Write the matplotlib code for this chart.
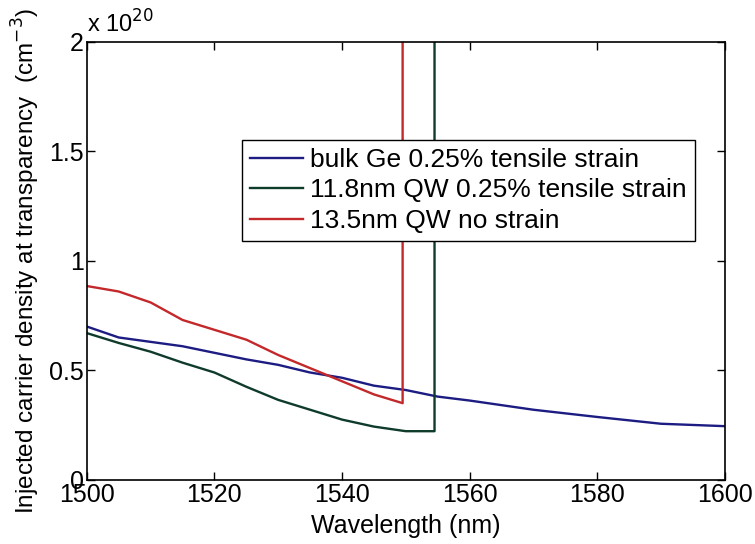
import numpy as np
import matplotlib.pyplot as plt

plt.rcParams['font.family'] = ['Liberation Sans', 'DejaVu Sans']

# values in units of 1e20 cm^-3
wl_bulk = [1500, 1505, 1510, 1515, 1520, 1525, 1530, 1535, 1540, 1545, 1550, 1555, 1560, 1570, 1580, 1590, 1600]
n_bulk = [0.70, 0.65, 0.63, 0.61, 0.58, 0.55, 0.525, 0.49, 0.466, 0.43, 0.41, 0.38, 0.362, 0.32, 0.287, 0.256, 0.245]

wl_qw118 = [1500, 1505, 1510, 1515, 1520, 1525, 1530, 1535, 1540, 1545, 1550, 1554.5, 1554.5]
n_qw118 = [0.67, 0.625, 0.585, 0.535, 0.49, 0.425, 0.365, 0.32, 0.275, 0.243, 0.222, 0.222, 2.5]

wl_qw135 = [1500, 1505, 1510, 1515, 1520, 1525, 1530, 1535, 1540, 1545, 1549.5, 1549.5]
n_qw135 = [0.885, 0.86, 0.81, 0.73, 0.685, 0.64, 0.57, 0.51, 0.45, 0.39, 0.35, 2.5]

labels = ['bulk Ge 0.25% tensile strain',
          '11.8nm QW 0.25% tensile strain',
          '13.5nm QW no strain']

fig = plt.figure(figsize=(7.55, 5.44), dpi=100)
ax = fig.add_axes([0.115, 0.118, 0.845, 0.805])

ax.plot(wl_bulk, n_bulk, color='#1c1c82', lw=1.7, label=labels[0])
ax.plot(wl_qw118, n_qw118, color='#0f3b2a', lw=1.7, label=labels[1])
ax.plot(wl_qw135, n_qw135, color='#c3282a', lw=1.7, label=labels[2])

ax.set_xlim(1500, 1600)
ax.set_ylim(0, 2)
ax.set_xticks([1500, 1520, 1540, 1560, 1580, 1600])
ax.set_yticks([0, 0.5, 1, 1.5, 2])
ax.set_yticklabels(['0', '0.5', '1', '1.5', '2'])
ax.tick_params(direction='in', top=True, right=True, labelsize=18, length=6, width=1, pad=2)
for s in ax.spines.values():
	s.set_linewidth(1.2)

ax.set_xlabel('Wavelength (nm)', fontsize=18, labelpad=5)
ax.set_ylabel('Injected carrier density at transparency  (cm$^{-3}$)', fontsize=17.5, labelpad=5)
ax.text(0.0, 1.01, r'x 10$^{20}$', transform=ax.transAxes, fontsize=17, va='bottom', ha='left')

leg = ax.legend(loc='upper left', bbox_to_anchor=(0.243, 0.776), borderaxespad=0,
	fontsize=19, handlelength=2.0, handletextpad=0.3, labelspacing=0.25,
	borderpad=0.3, fancybox=False, framealpha=1, edgecolor='black')
leg.get_frame().set_linewidth(1.0)

plt.savefig('out.png', dpi=100)
